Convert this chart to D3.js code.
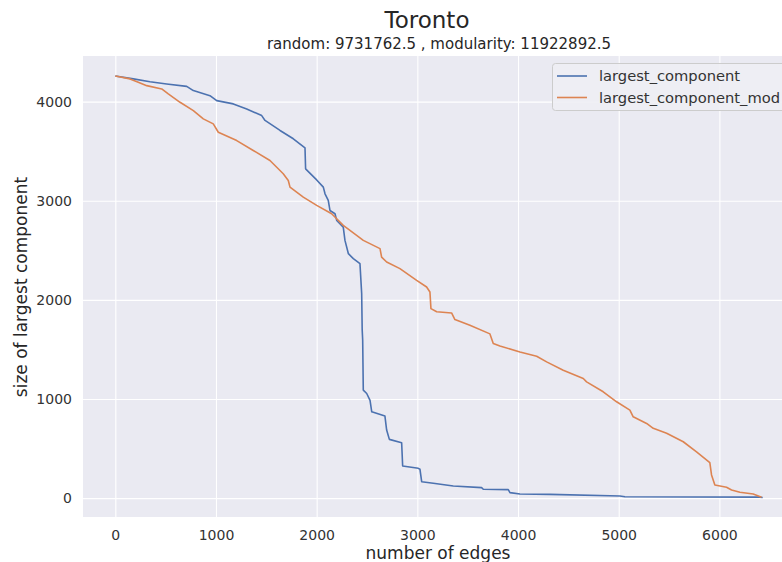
<!DOCTYPE html>
<html>
<head>
<meta charset="utf-8">
<script src="https://cdn.jsdelivr.net/npm/d3@7/dist/d3.min.js"></script>
<style>
  html, body { margin: 0; padding: 0; background: #ffffff; }
  svg { display: block; }
  text { font-family: "DejaVu Sans", sans-serif; }
</style>
</head>
<body>
<script>
// ---- data ----
const titleText = "Toronto";
const subtitleText = "random: 9731762.5 , modularity: 11922892.5";
const xLabel = "number of edges";
const yLabel = "size of largest component";
const seriesNames = ["largest_component", "largest_component_mod"];
const xTicks = [0, 1000, 2000, 3000, 4000, 5000, 6000];
const yTicks = [0, 1000, 2000, 3000, 4000];

// random removal: [edges, size]
const randomX = [0, 179, 345, 510, 709, 775, 940, 1007, 1172, 1305, 1454, 1487, 1636, 1768, 1884, 1890, 2000, 2066, 2083, 2115, 2132, 2182, 2199, 2264, 2281, 2315, 2364, 2430, 2447, 2452, 2457, 2463, 2497, 2530, 2547, 2678, 2695, 2722, 2844, 2854, 3009, 3026, 3043, 3158, 3357, 3638, 3655, 3903, 3920, 4019, 4317, 5012, 5062, 6402, 6430];
const randomY = [4258, 4229, 4201, 4178, 4154, 4111, 4060, 4010, 3977, 3926, 3859, 3810, 3709, 3625, 3534, 3322, 3210, 3137, 3070, 3003, 2902, 2869, 2802, 2734, 2600, 2466, 2416, 2365, 2063, 1700, 1593, 1090, 1056, 986, 871, 828, 687, 593, 559, 324, 301, 291, 166, 150, 123, 106, 90, 86, 56, 42, 38, 22, 15, 10, 6];

// modularity-based removal: [edges, size]
const modX = [0, 146, 228, 312, 461, 526, 643, 775, 874, 973, 1023, 1206, 1370, 1536, 1668, 1718, 1735, 1867, 2000, 2149, 2264, 2397, 2463, 2629, 2645, 2695, 2827, 2993, 3092, 3125, 3135, 3192, 3340, 3373, 3522, 3721, 3754, 3820, 4019, 4185, 4284, 4449, 4648, 4681, 4846, 4979, 5111, 5144, 5277, 5343, 5476, 5641, 5773, 5905, 5922, 5955, 6071, 6121, 6204, 6336, 6419];
const modY = [4258, 4229, 4195, 4161, 4128, 4078, 3993, 3909, 3826, 3775, 3691, 3607, 3507, 3406, 3272, 3204, 3137, 3036, 2953, 2869, 2751, 2651, 2600, 2517, 2432, 2382, 2315, 2197, 2130, 2080, 1912, 1880, 1868, 1802, 1744, 1657, 1560, 1535, 1475, 1432, 1375, 1291, 1207, 1173, 1073, 972, 888, 821, 754, 704, 654, 569, 468, 358, 234, 133, 110, 83, 59, 42, 9];

const colors = ["#4C72B0", "#DD8452"];

// ---- layout ----
const W = 782, H = 562;
const plot = { left: 83, right: 795, top: 56, bottom: 517 };

const svg = d3.select("body").append("svg")
  .attr("width", W).attr("height", H);

const x = d3.scaleLinear().domain([-321, 6751]).range([plot.left, plot.right]);
const y = d3.scaleLinear().domain([-190, 4460]).range([plot.bottom, plot.top]);

svg.append("defs").append("clipPath").attr("id", "clip")
  .append("rect").attr("x", plot.left).attr("y", plot.top)
  .attr("width", plot.right - plot.left).attr("height", plot.bottom - plot.top);

svg.append("rect")
  .attr("x", plot.left).attr("y", plot.top)
  .attr("width", plot.right - plot.left).attr("height", plot.bottom - plot.top)
  .attr("fill", "#EAEAF2");

// grid via axes
const gx = svg.append("g").attr("transform", `translate(0,${plot.bottom})`)
  .call(d3.axisBottom(x).tickValues(xTicks).tickSize(-(plot.bottom - plot.top)).tickFormat(d3.format("d")));
const gy = svg.append("g").attr("transform", `translate(${plot.left},0)`)
  .call(d3.axisLeft(y).tickValues(yTicks).tickSize(-(plot.right - plot.left)).tickPadding(11).tickFormat(d3.format("d")));
[gx, gy].forEach(g => {
  g.select(".domain").remove();
  g.selectAll(".tick line").attr("stroke", "#ffffff").attr("stroke-width", 1.1);
  g.selectAll(".tick text").attr("fill", "#333333").attr("font-size", "14px")
    .attr("font-family", "DejaVu Sans, sans-serif");
});
gx.selectAll(".tick text").attr("y", 18).attr("dy", "0.35em");

// lines
const lineGen = d3.line().x(d => x(d[0])).y(d => y(d[1]));
const series = [
  d3.zip(randomX, randomY),
  d3.zip(modX, modY)
];
const lg = svg.append("g").attr("clip-path", "url(#clip)");
series.forEach((s, i) => {
  lg.append("path").datum(s)
    .attr("d", lineGen)
    .attr("fill", "none")
    .attr("stroke", colors[i])
    .attr("stroke-width", 1.6)
    .attr("stroke-linejoin", "round");
});

// legend
const leg = svg.append("g").attr("clip-path", "url(#clip)");
leg.append("rect")
  .attr("x", 552.5).attr("y", 63.5).attr("width", 250).attr("height", 47)
  .attr("rx", 3).attr("fill", "#EEEEF4").attr("fill-opacity", 0.9)
  .attr("stroke", "#CCCCCC").attr("stroke-width", 1);
seriesNames.forEach((name, i) => {
  const yy = 76 + i * 21.5;
  leg.append("line").attr("x1", 557).attr("x2", 587).attr("y1", yy).attr("y2", yy)
    .attr("stroke", colors[i]).attr("stroke-width", 1.6);
  leg.append("text").attr("x", 599).attr("y", yy).attr("dy", "0.35em")
    .attr("font-size", "14.7px").attr("fill", "#333333").text(name);
});

// titles
svg.append("text").attr("x", 427).attr("y", 28).attr("text-anchor", "middle")
  .attr("font-size", "23px").attr("fill", "#262626").text(titleText);
svg.append("text").attr("x", 439).attr("y", 49).attr("text-anchor", "middle")
  .attr("font-size", "15px").attr("fill", "#262626").text(subtitleText);

// axis labels
svg.append("text").attr("x", 438).attr("y", 559).attr("text-anchor", "middle")
  .attr("font-size", "17px").attr("fill", "#262626").text(xLabel);
svg.append("text").attr("transform", `translate(27,287) rotate(-90)`).attr("text-anchor", "middle")
  .attr("font-size", "17px").attr("fill", "#262626").text(yLabel);
</script>
</body>
</html>
